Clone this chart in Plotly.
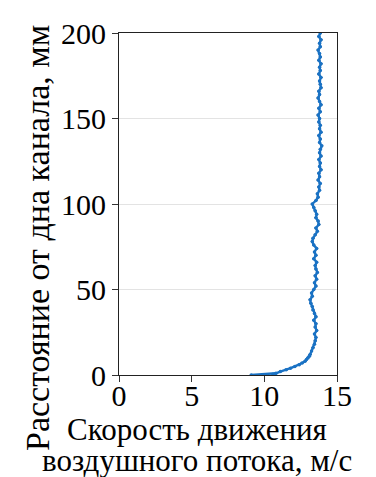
import plotly.graph_objects as go

# Height above the channel bottom, mm
height_mm = [
    0, 0.5, 1, 2, 3, 4, 5, 6, 7, 8, 9, 10, 11, 12, 14, 16, 18,
    20, 22, 24, 26, 28, 30, 32, 34, 36, 38, 40, 42, 44, 46, 48,
    50, 52, 54, 56, 58, 60, 62, 64, 66, 68, 70, 72, 74, 76, 78,
    80, 82, 84, 86, 88, 90, 92, 94, 96, 98, 100, 102, 104, 106, 108,
    110, 112, 114, 116, 118, 120, 122, 124, 126, 128, 130, 132, 134, 136, 138,
    140, 142, 144, 146, 148, 150, 152, 154, 156, 158, 160, 162, 164, 166, 168,
    170, 172, 174, 176, 178, 180, 182, 184, 186, 188, 190, 192, 194, 196, 198, 200,
]

# Mean air-flow speed at each height, m/s
speed_ms = [
    9.1, 10.6, 10.8, 11.1, 11.5, 11.8, 12.1, 12.4, 12.6, 12.8, 12.9, 13.0, 13.1, 13.15, 13.25, 13.35, 13.45,
    13.5, 13.55, 13.45, 13.6, 13.5, 13.55, 13.4, 13.55, 13.45, 13.35, 13.3, 13.2, 13.15, 13.3, 13.25,
    13.4, 13.55, 13.45, 13.6, 13.5, 13.65, 13.55, 13.5, 13.6, 13.4, 13.55, 13.45, 13.6, 13.4, 13.3,
    13.35, 13.5, 13.65, 13.55, 13.75, 13.7, 13.55, 13.6, 13.5, 13.4, 13.3, 13.55, 13.7, 13.65, 13.8,
    13.75, 13.85, 13.7, 13.8, 13.75, 13.9, 13.8, 13.85, 13.75, 13.9, 13.8, 13.85, 13.95, 13.8, 13.85,
    13.75, 13.9, 13.8, 13.85, 13.75, 13.8, 13.7, 13.85, 13.75, 13.9, 13.8, 13.7, 13.8, 13.75, 13.9,
    13.85, 13.8, 13.9, 13.75, 13.85, 13.8, 13.9, 13.75, 13.85, 13.8, 13.7, 13.85, 13.8, 13.9, 13.75, 13.85,
]

# Measurement scatter of the speed, m/s
speed_err = 0.1

x_ticks = [0, 5, 10, 15]
y_ticks = [0, 50, 100, 150, 200]

x_title_lines = ["Скорость движения", "воздушного потока, м/с"]
y_title = "Расстояние от дна канала, мм"

SERIF = "Liberation Serif, Times New Roman, serif"
BLUE = "#1a72c4"

fig = go.Figure()
fig.add_trace(go.Scatter(
    x=speed_ms,
    y=height_mm,
    mode="lines+markers",
    line=dict(color=BLUE, width=2.4),
    marker=dict(color=BLUE, size=3.5),
    error_x=dict(type="constant", value=speed_err, color="black",
                 thickness=1, width=0),
    showlegend=False,
))

axis_common = dict(
    ticks="outside", ticklen=6, tickwidth=1, tickcolor="#333",
    showline=True, linecolor="#222", linewidth=1.2, mirror=True,
    zeroline=False, automargin=False,
    tickfont=dict(family=SERIF, size=30, color="black"),
)

fig.update_layout(
    width=376,
    height=477,
    margin=dict(l=119, r=39, t=33, b=102),
    paper_bgcolor="white",
    plot_bgcolor="white",
    font=dict(family=SERIF, color="black", size=30),
    xaxis=dict(range=[0, 15], tickvals=x_ticks, showgrid=False, ticklabelstandoff=-12,
               **axis_common),
    yaxis=dict(range=[0, 200], tickvals=y_ticks, showgrid=True,
               gridcolor="#e3e3e3", gridwidth=1, **axis_common),
)

# Axis captions, placed in paper coordinates relative to the plot area
plot_w, plot_h = 376 - 119 - 39, 477 - 33 - 102
for line, y_px in zip(x_title_lines, [429, 460]):
    fig.add_annotation(
        text=line, xref="paper", yref="paper",
        x=(197 - 119) / plot_w, y=(375 - y_px) / plot_h,
        xanchor="center", yanchor="middle", showarrow=False,
        font=dict(family=SERIF, size=31, color="black"),
    )
fig.add_annotation(
    text=y_title, xref="paper", yref="paper",
    x=(38 - 119) / plot_w, y=(375 - 238) / plot_h,
    xanchor="center", yanchor="middle", textangle=-90, showarrow=False,
    font=dict(family=SERIF, size=34, color="black"),
)

fig.write_html("out.html")
